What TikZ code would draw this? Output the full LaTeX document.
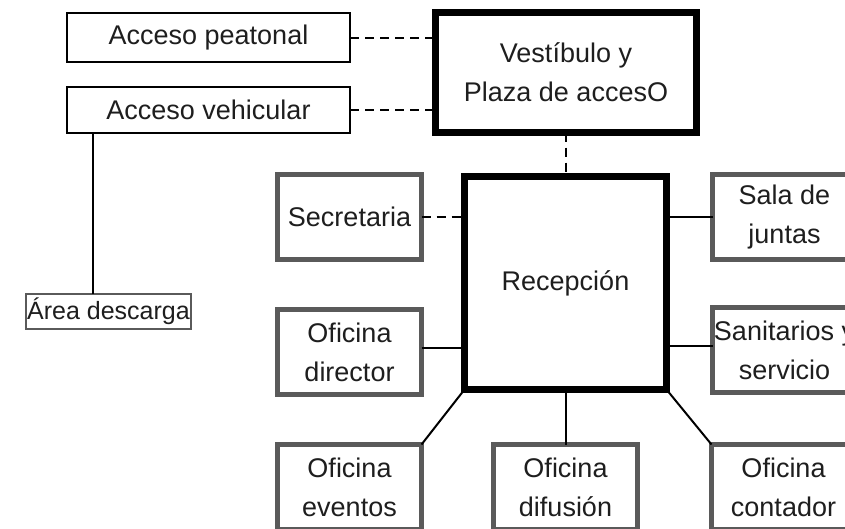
\documentclass[tikz,border=0pt]{standalone}
\usepackage{fontspec}
\setmainfont{Liberation Sans}
\definecolor{txt}{RGB}{30,30,30}
\definecolor{boxgray}{RGB}{90,90,90}
\begin{document}
\begin{tikzpicture}[x=1pt,y=-1pt,
  every node/.style={inner sep=0pt,outer sep=0pt,text=txt,align=center,
    font=\fontsize{27}{39}\selectfont},
  thinbox/.style={draw=black,line width=2pt,fill=white},
  thickbox/.style={draw=black,line width=7pt,fill=white},
  graybox/.style={draw=boxgray,line width=5pt,fill=white,
    minimum width=144pt,minimum height=85pt},
  smallbox/.style={draw=boxgray,line width=2.5pt,fill=white,
    font=\fontsize{25}{30}\selectfont},
  link/.style={draw=black,line width=2pt},
  dlink/.style={draw=black,line width=2pt,dash pattern=on 9pt off 6pt}]
\useasboundingbox (0,0) rectangle (845,528);
\clip (0,0) rectangle (845,528);
% nodes
\node[thinbox,minimum width=283pt,minimum height=49pt] (peat) at (208.5,37.5) {Acceso peatonal};
\node[thinbox,minimum width=283pt,minimum height=46pt] (veh) at (208.5,110) {Acceso vehicular};
\node[thickbox,minimum width=261pt,minimum height=120pt] (vest) at (566,72.5) {Vestíbulo y\\Plaza de accesO};
\node[thickbox,minimum width=202pt,minimum height=213pt] (rec) at (565.5,283) {Recepción};
\node[graybox] (sec) at (349.5,217) {Secretaria};
\node[graybox] (dir) at (349.5,352) {Oficina\\director};
\node[graybox] (sala) at (784.5,217) {Sala de\\juntas};
\node[graybox] (san) at (784.5,350) {Sanitarios y\\servicio};
\node[graybox] (ev) at (349.5,487) {Oficina\\eventos};
\node[graybox] (dif) at (565.5,487) {Oficina\\difusión};
\node[graybox] (con) at (783.5,487) {Oficina\\contador};
\node[smallbox,minimum width=165pt,minimum height=35pt] (area) at (108.5,311.5) {Área descarga};
% connector end points
\coordinate (vehdrop) at ([xshift=26pt]veh.south west);
\coordinate (dirpt) at ([yshift=4pt]dir.east);
\coordinate (sanpt) at ([yshift=4pt]san.west);
% connectors
\draw[dlink] (peat.east) -- (peat.east -| vest.west);
\draw[dlink] (veh.east) -- (veh.east -| vest.west);
\draw[dlink] (vest.south) -- (vest.south |- rec.north);
\draw[dlink] (sec.east) -- (sec.east -| rec.west);
\draw[link] (vehdrop) -- (vehdrop |- area.north);
\draw[link] (dirpt) -- (dirpt -| rec.west);
\draw[link] (rec.east |- sala.west) -- (sala.west);
\draw[link] (rec.east |- sanpt) -- (sanpt);
\draw[link] (rec.south west) -- (ev.north east);
\draw[link] (rec.south) -- (rec.south |- dif.north);
\draw[link] (rec.south east) -- (con.north west);
\end{tikzpicture}
\end{document}
